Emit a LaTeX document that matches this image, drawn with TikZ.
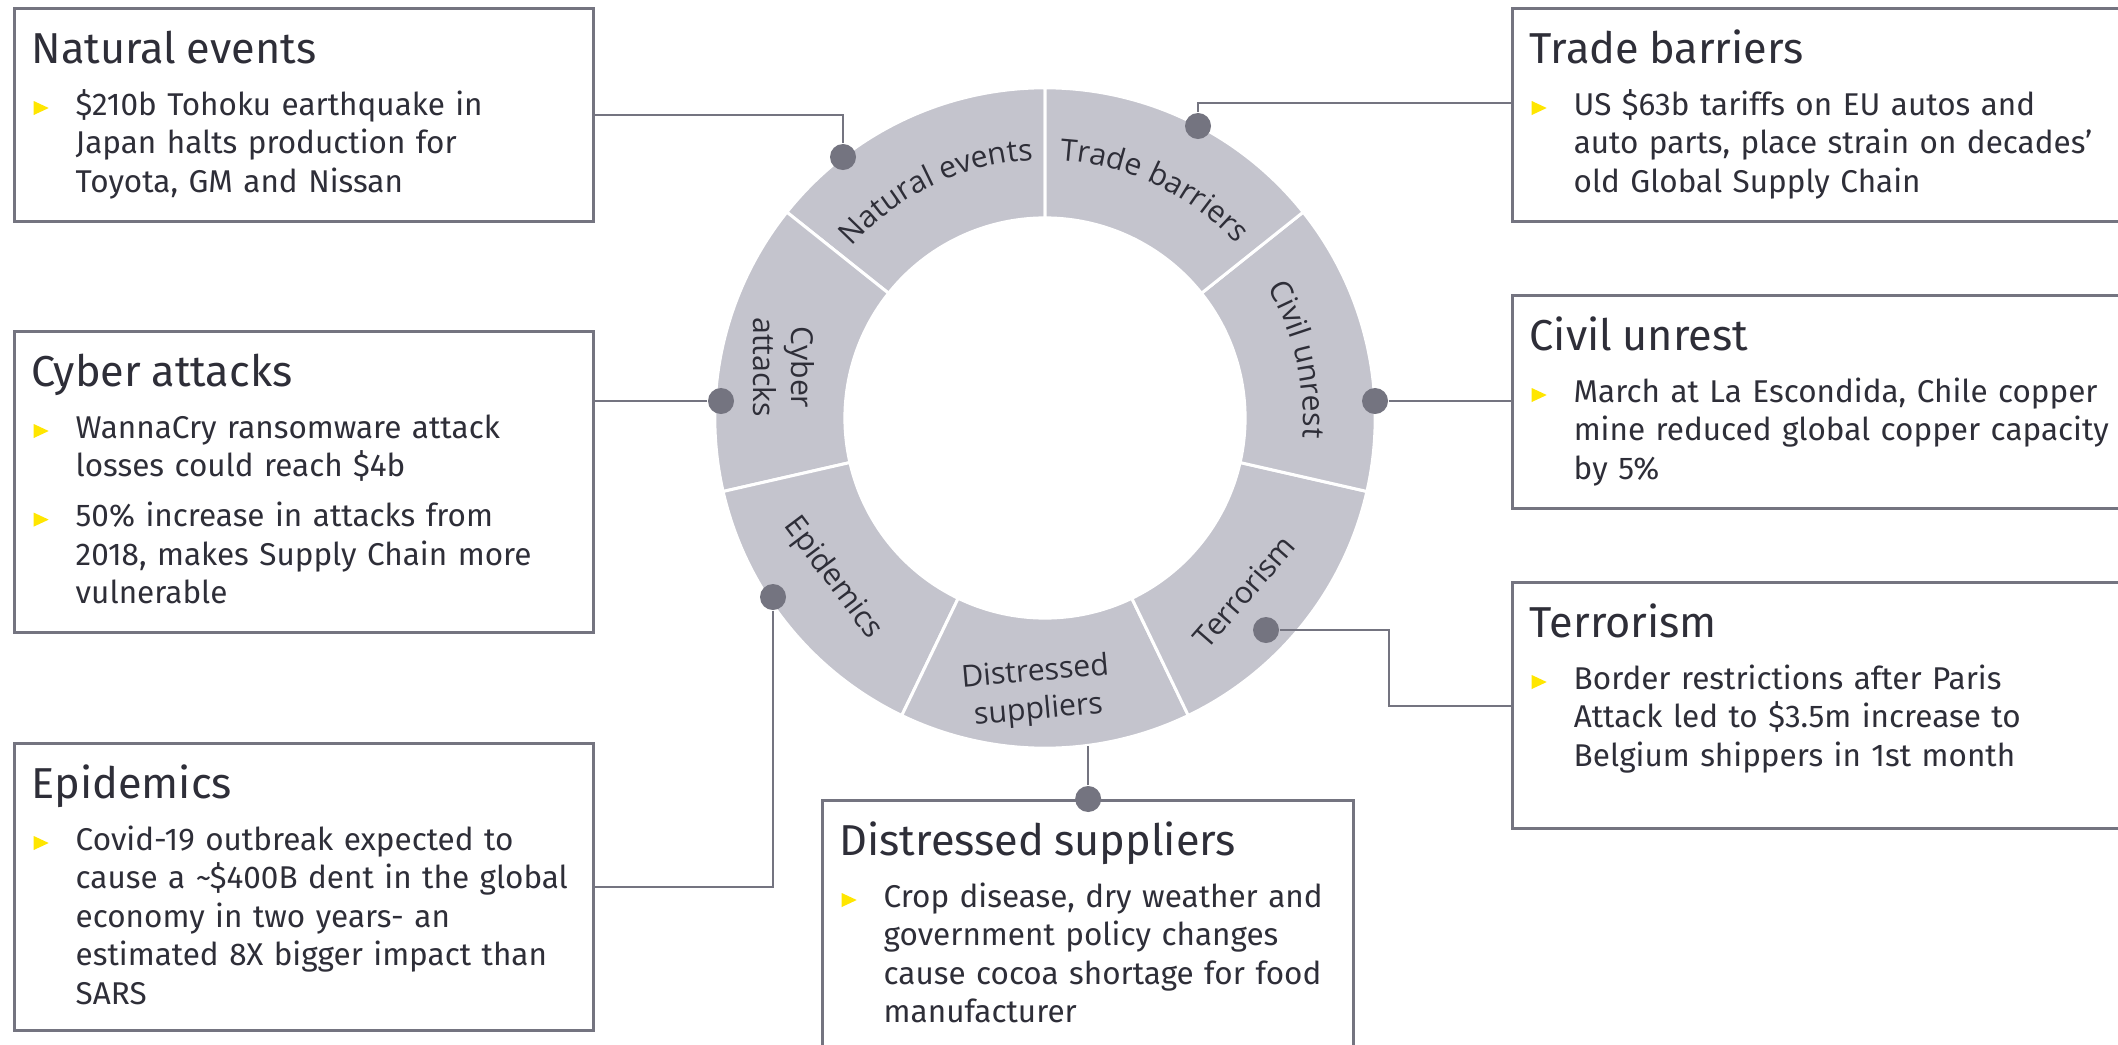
\documentclass[tikz,border=0pt]{standalone}
\usepackage{fontspec}
\setmainfont{Fira Sans}
\newfontfamily\ringfont{Open Sans}
\usetikzlibrary{decorations.text}

\definecolor{eygray}{HTML}{747480}
\definecolor{eylight}{HTML}{C4C4CD}
\definecolor{eydark}{HTML}{2E2E38}
\definecolor{eyyellow}{HTML}{FFE600}

\newcommand{\titlesize}{\fontsize{12.3pt}{14pt}\selectfont}
\newcommand{\bodysize}{\fontsize{8.95pt}{10.95pt}\selectfont}
\newcommand{\ringsize}{\ringfont\fontsize{8.6pt}{10.8pt}\selectfont}
\newcommand{\bullettri}{\tikz[x=1cm,y=1cm,baseline=0pt]\fill[eyyellow] (0,0) -- (0,0.14) -- (0.15,0.07) -- cycle;}
\newcommand{\risktitle}[1]{{\titlesize #1\par}\vspace{3.84pt}}
\newcommand{\riskitem}[1]{\par{\let\\\newline\noindent\hangindent=0.44cm\hangafter=1\makebox[0.44cm][l]{\hspace{0.02cm}\bullettri}#1\par}}

\tikzset{
	riskbox/.style={draw=eygray, line width=0.85pt, anchor=north west, inner sep=0pt},
	risktext/.style={anchor=base west, inner sep=0pt, text width=6.4cm, align=left, text=eydark, font=\bodysize},
	riskdot/.style={circle, fill=eygray, minimum size=0.26cm, inner sep=0pt},
	link/.style={draw=eygray, line width=0.57pt},
	segment/.style={fill=eylight, draw=white, line width=0.85pt},
	ringlabel/.style={text=eydark, font=\ringsize, inner sep=0pt},
	ringarc/.style={decorate, decoration={text along path, text={|\ringsize|#1}, text align=center, text color=eydark}}
}

\begin{document}
\begin{tikzpicture}[x=0.01cm, y=0.01cm]
	\clip (0,0) rectangle (2118,1044);
	\fill[white] (0,0) rectangle (2118,1044);

	\begin{scope}[shift={(1045,626)}]
		\foreach \k in {0,...,6} {
			\pgfmathsetmacro\aa{90+51.4286*\k}
			\pgfmathsetmacro\bb{\aa+51.4286}
			\filldraw[segment] (\aa:3.3cm) arc[start angle=\aa, end angle=\bb, radius=3.3cm]
				-- (\bb:2cm) arc[start angle=\bb, end angle=\aa, radius=2cm] -- cycle;
		}
		\path[ringarc={Natural events}] (142:2.58cm) arc[start angle=142, end angle=89, radius=2.58cm];
		\path[ringarc={Trade barriers}] (91:2.58cm) arc[start angle=91, end angle=38, radius=2.58cm];
		\path[ringarc={Civil unrest}] (39:2.58cm) arc[start angle=39, end angle=-13, radius=2.58cm];
		\node[ringlabel, rotate=-90, align=center] (lcyber) at (169:2.66cm) {Cyber\\attacks};
		\node[ringlabel, rotate=-53] (lepi) at (217:2.66cm) {Epidemics};
		\node[ringlabel, rotate=49] (lterror) at (319:2.64cm) {Terrorism};
		\node[ringlabel, rotate=5, align=center] (ldist) at (268.3:2.74cm) {Distressed\\suppliers};
		\coordinate (ringbot) at (277.3:3.3cm);
	\end{scope}

	\node[riskbox, minimum width=5.79cm, minimum height=2.13cm] (natural) at (13,1037) {};
	\node[riskbox, minimum width=5.79cm, minimum height=3.01cm] (cyber) at (13,714) {};
	\node[riskbox, minimum width=5.79cm, minimum height=2.87cm] (epi) at (13,302) {};
	\node[riskbox, minimum width=5.31cm, minimum height=2.7cm] (distressed) at (821,245) {};
	\node[riskbox, minimum width=6.2cm, minimum height=2.13cm] (trade) at (1511,1037) {};
	\node[riskbox, minimum width=6.2cm, minimum height=2.13cm] (civil) at (1511,750) {};
	\node[riskbox, minimum width=6.2cm, minimum height=2.46cm] (terror) at (1511,463) {};

	\node[risktext] (natural-text) at ([shift={(18,-56)}]natural.north west) {
		\risktitle{Natural events}
		\riskitem{\$210b Tohoku earthquake in\\Japan halts production for\\Toyota, GM and Nissan}};
	\node[risktext] (cyber-text) at ([shift={(18,-56)}]cyber.north west) {
		\risktitle{Cyber attacks}
		\riskitem{WannaCry ransomware attack\\losses could reach \$4b}
		\vspace{3.3pt}
		\riskitem{50\% increase in attacks from\\2018, makes Supply Chain more\\vulnerable}};
	\node[risktext] (epi-text) at ([shift={(18,-56)}]epi.north west) {
		\risktitle{Epidemics}
		\riskitem{Covid-19 outbreak expected to\\cause a \textasciitilde\$400B dent in the global\\economy in two years- an\\estimated 8X bigger impact than\\SARS}};
	\node[risktext] (distressed-text) at ([shift={(18,-56)}]distressed.north west) {
		\risktitle{Distressed suppliers}
		\riskitem{Crop disease, dry weather and\\government policy changes\\cause cocoa shortage for food\\manufacturer}};
	\node[risktext] (trade-text) at ([shift={(18,-56)}]trade.north west) {
		\risktitle{Trade barriers}
		\riskitem{US \$63b tariffs on EU autos and\\auto parts, place strain on decades’\\old Global Supply Chain}};
	\node[risktext] (civil-text) at ([shift={(18,-56)}]civil.north west) {
		\risktitle{Civil unrest}
		\riskitem{March at La Escondida, Chile copper\\mine reduced global copper capacity\\by 5\%}};
	\node[risktext] (terror-text) at ([shift={(18,-56)}]terror.north west) {
		\risktitle{Terrorism}
		\riskitem{Border restrictions after Paris\\Attack led to \$3.5m increase to\\Belgium shippers in 1st month}};

	\node[riskdot] (dnat) at (843,887) {};
	\node[riskdot] (dtrade) at (1198,918) {};
	\node[riskdot] (dcyber) at (721,643) {};
	\node[riskdot] (dcivil) at (1375,643) {};
	\node[riskdot] (depi) at (773,447) {};
	\node[riskdot] (dterror) at (1266,414) {};
	\node[riskdot] (ddist) at (distressed.north) {};

	\draw[link] (natural.east) -| (dnat);
	\draw[link] ([yshift=0.125cm]trade.west) -| (dtrade);
	\draw[link] (dcyber) -- (dcyber -| cyber.east);
	\draw[link] (dcivil) -- (dcivil -| civil.west);
	\draw[link] (depi) |- (epi.east);
	\draw[link] (dterror) -- ++(123,0) |- (terror.west);
	\draw[link] (ddist) -- (ddist |- ringbot);
\end{tikzpicture}
\end{document}
